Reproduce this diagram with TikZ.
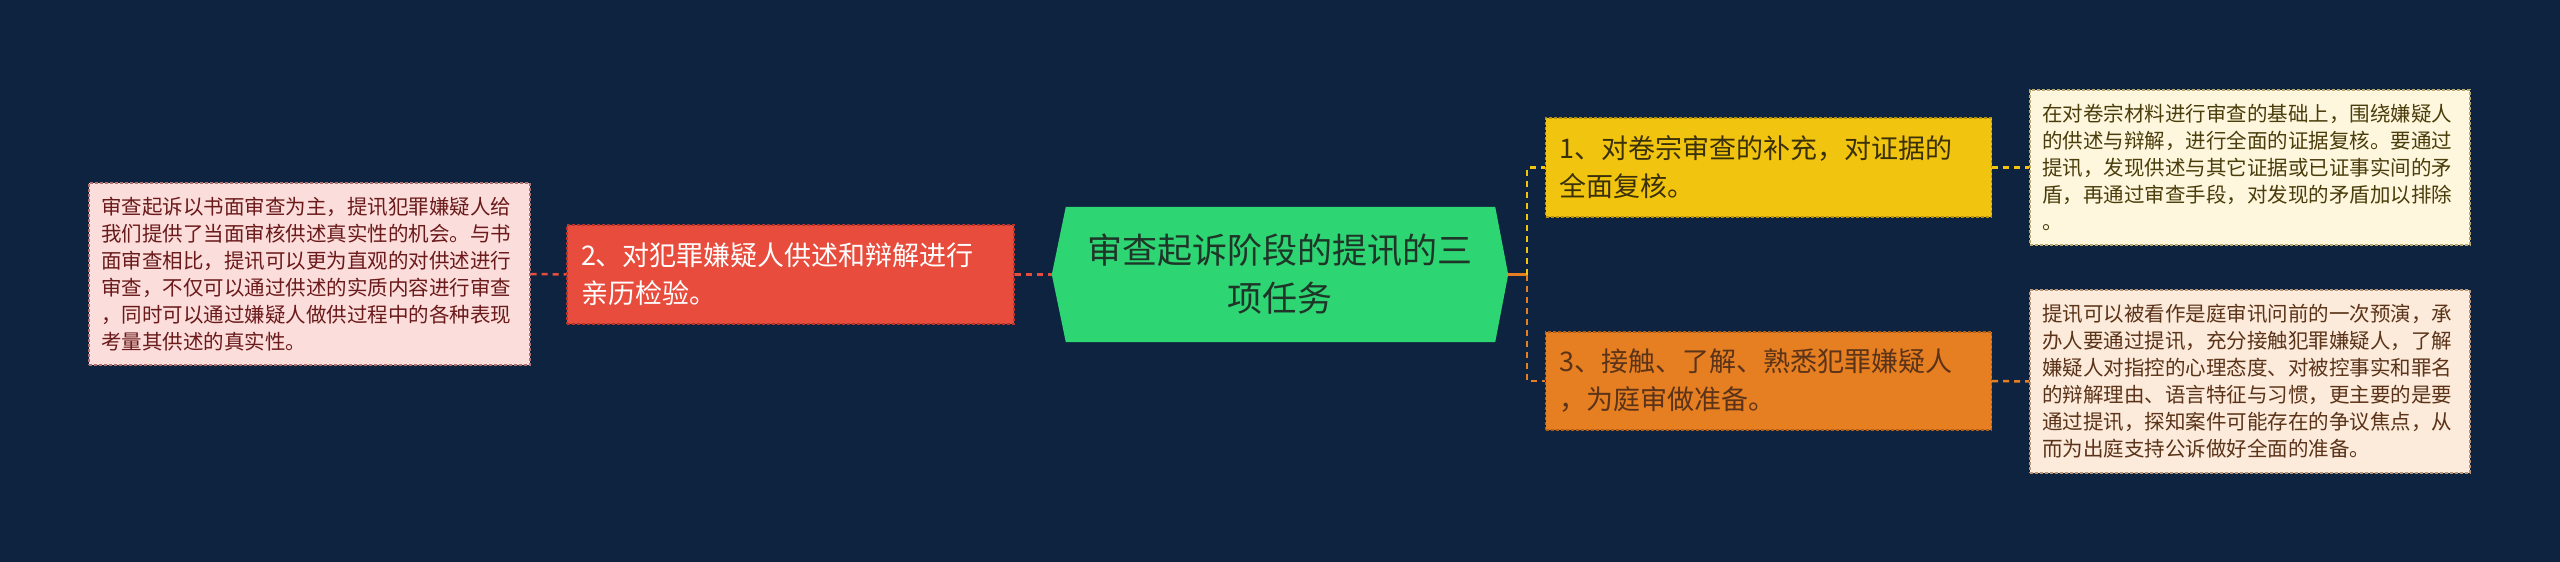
\documentclass[tikz,border=0pt]{standalone}
\usepackage{fontspec}
\setmainfont{Noto Sans CJK SC}
\usetikzlibrary{backgrounds}
\definecolor{bg}{HTML}{0E233F}
\definecolor{cgreen}{HTML}{2ED573}
\definecolor{cred}{HTML}{E74C3C}
\definecolor{credd}{HTML}{B8342A}
\definecolor{cyel}{HTML}{F1C40F}
\definecolor{cyeld}{HTML}{B8930A}
\definecolor{corg}{HTML}{E67E22}
\definecolor{corgd}{HTML}{B35E14}
\definecolor{lpink}{HTML}{FBDDDB}
\definecolor{lpinkd}{HTML}{B07070}
\definecolor{lpinkt}{HTML}{6A1A1A}
\definecolor{lcream}{HTML}{FEF7DD}
\definecolor{lcreamd}{HTML}{B8A870}
\definecolor{lcreamt}{HTML}{4A3D0C}
\definecolor{lpeach}{HTML}{FCEADB}
\definecolor{lpeachd}{HTML}{B89478}
\definecolor{lpeacht}{HTML}{5A3318}
\definecolor{ctext}{HTML}{1E3528}
\definecolor{ytext}{HTML}{3A300A}
\tikzset{
  boxbase/.style={rectangle, draw, dash pattern=on 3pt off 2pt, line width=1.3pt, align=left},
  leafbox/.style={boxbase, inner sep=12pt, font=\fontsize{20.5}{27}\selectfont},
  mainbox/.style={boxbase, inner sep=14pt, font=\fontsize{27}{38}\selectfont},
  conn/.style={line width=2.5pt, dash pattern=on 6pt off 5pt},
}
\begin{document}
\begin{tikzpicture}[x=1pt,y=-1pt]
\useasboundingbox (0,0) rectangle (2560,562);
% center
\node[inner sep=0pt, minimum width=456pt, minimum height=135pt, align=center,
      text=ctext, font=\fontsize{35}{48}\selectfont] (c) at (1280,274.5)
      {审查起诉阶段的提讯的三\\项任务};
% level 1
\node[mainbox, fill=cred, draw=credd, text=white, text width=419pt, minimum height=99pt] (b2) at (790.5,274.5)
      {2、对犯罪嫌疑人供述和辩解进行\\亲历检验。};
\node[mainbox, fill=cyel, draw=cyeld, text=ytext, text width=418pt, minimum height=99pt] (b1) at (1768.5,167.5)
      {1、对卷宗审查的补充，对证据的\\全面复核。};
\node[mainbox, fill=corg, draw=corgd, text=lpeacht, text width=418pt, minimum height=98pt] (b3) at (1768.5,381)
      {3、接触、了解、熟悉犯罪嫌疑人\\，为庭审做准备。};
% leaves
\node[leafbox, fill=lpink, draw=lpinkd, text=lpinkt, text width=417pt, minimum height=182pt] (l2) at (309.5,274)
      {审查起诉以书面审查为主，提讯犯罪嫌疑人给\\我们提供了当面审核供述真实性的机会。与书\\面审查相比，提讯可以更为直观的对供述进行\\审查，不仅可以通过供述的实质内容进行审查\\，同时可以通过嫌疑人做供过程中的各种表现\\考量其供述的真实性。};
\node[leafbox, fill=lcream, draw=lcreamd, text=lcreamt, text width=416pt, minimum height=155pt] (r1) at (2250,167.5)
      {在对卷宗材料进行审查的基础上，围绕嫌疑人\\的供述与辩解，进行全面的证据复核。要通过\\提讯，发现供述与其它证据或已证事实间的矛\\盾，再通过审查手段，对发现的矛盾加以排除\\。};
\node[leafbox, fill=lpeach, draw=lpeachd, text=lpeacht, text width=416pt, minimum height=183pt] (r3) at (2250,381.5)
      {提讯可以被看作是庭审讯问前的一次预演，承\\办人要通过提讯，充分接触犯罪嫌疑人，了解\\嫌疑人对指控的心理态度、对被控事实和罪名\\的辩解理由、语言特征与习惯，更主要的是要\\通过提讯，探知案件可能存在的争议焦点，从\\而为出庭支持公诉做好全面的准备。};
% background and hexagon
\begin{scope}[on background layer]
  \fill[bg] (0,0) rectangle (2560,562);
  \fill[cgreen] (c.west) -- ([xshift=14pt]c.north west) -- ([xshift=-13pt]c.north east)
     -- (c.east) -- ([xshift=-13pt]c.south east) -- ([xshift=14pt]c.south west) -- cycle;
\end{scope}
% connectors
\coordinate (j) at (1527,274.5);
\draw[conn, cred] (l2.east) -- (b2.west);
\draw[conn, cred] (b2.east) -- (c.west);
\draw[line width=2.5pt, corg] (c.east) -- (j);
\draw[conn, cyel] (j) |- (b1.west);
\draw[conn, corg] (j) |- (b3.west);
\draw[conn, cyel] (b1.east) -- (r1.west);
\draw[conn, corg] (b3.east) -- (r3.west);
\end{tikzpicture}
\end{document}
